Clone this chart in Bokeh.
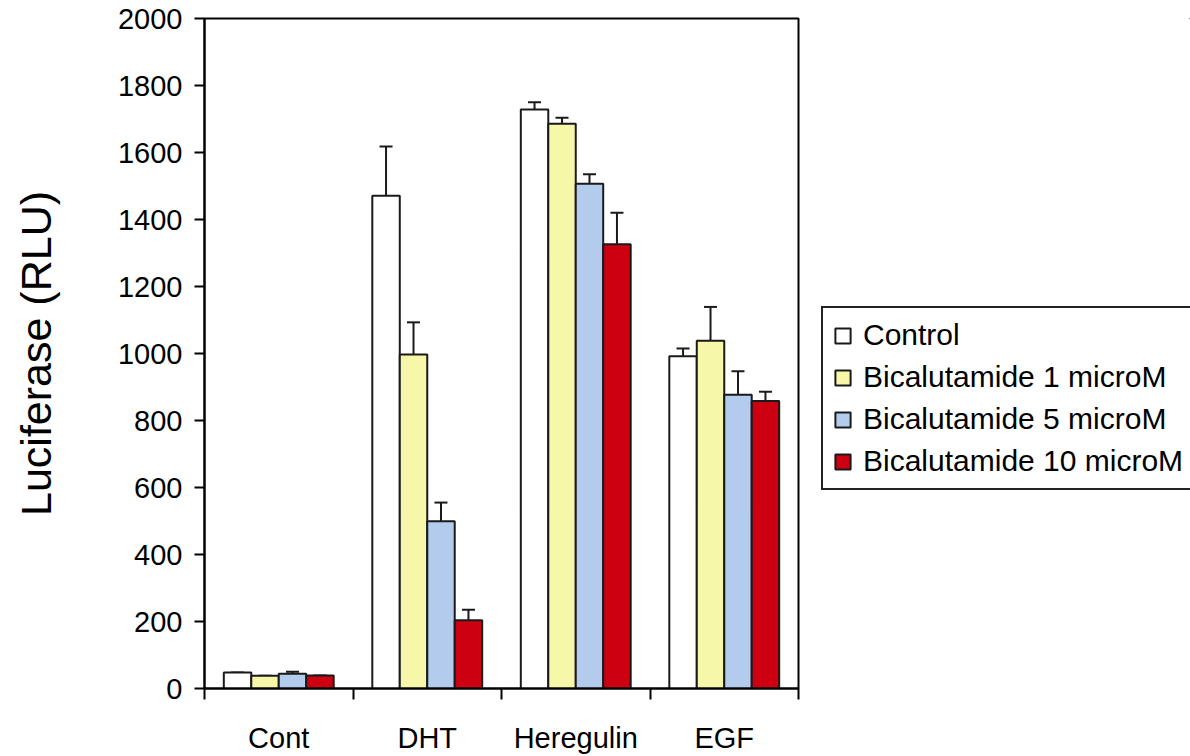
from bokeh.plotting import figure
from bokeh.models import (ColumnDataSource, FixedTicker, Legend, LegendItem,
                          Whisker, TeeHead, Range1d)
from bokeh.layouts import row
from bokeh.embed import file_html
from bokeh.resources import INLINE

categories = ["Cont", "DHT", "Heregulin", "EGF"]
series_names = ["Control", "Bicalutamide 1 microM", "Bicalutamide 5 microM",
                "Bicalutamide 10 microM"]
control = [48, 1471, 1728, 992]
bica1 = [38, 997, 1686, 1038]
bica5 = [44, 499, 1507, 877]
bica10 = [39, 204, 1326, 858]
control_err = [0, 147, 22, 23]
bica1_err = [0, 96, 18, 101]
bica5_err = [6, 56, 28, 70]
bica10_err = [0, 31, 94, 28]
y_ticks = [0, 200, 400, 600, 800, 1000, 1200, 1400, 1600, 1800, 2000]

colors = ["#FFFFFF", "#F7F7AA", "#B3CCEE", "#CC0010"]
values = [control, bica1, bica5, bica10]
errors = [control_err, bica1_err, bica5_err, bica10_err]

FONT = "Liberation Sans"

p = figure(width=820, height=756, output_backend="svg", toolbar_location=None,
           x_range=Range1d(0, 4), y_range=Range1d(0, 2000),
           min_border_left=204, min_border_right=22, min_border_top=18,
           min_border_bottom=64)
p.grid.visible = False
p.outline_line_color = "black"
p.outline_line_width = 2
p.background_fill_color = "white"
p.border_fill_color = "white"

bw = 0.185
for k in range(4):
    xs = [i + 0.5 + (k - 1.5) * bw for i in range(len(categories))]
    tops = values[k]
    ups = [v + e for v, e in zip(values[k], errors[k])]
    src = ColumnDataSource(dict(x=xs, top=tops, up=ups))
    p.vbar(x="x", top="top", width=bw, bottom=0, source=src,
           fill_color=colors[k], line_color="#1a1a1a", line_width=2)
    w = Whisker(base="x", lower="top", upper="up", source=src, dimension="height",
                line_color="#1a1a1a", line_width=2,
                upper_head=TeeHead(size=13, line_color="#1a1a1a", line_width=2),
                lower_head=None)
    p.add_layout(w)

# axes
xa = p.xaxis[0]
xa.ticker = FixedTicker(ticks=[i + 0.5 for i in range(len(categories))],
                        minor_ticks=list(range(len(categories) + 1)))
xa.major_label_overrides = {i + 0.5: c for i, c in enumerate(categories)}
xa.major_tick_out = 0
xa.major_tick_in = 0
xa.minor_tick_out = 11
xa.minor_tick_in = 0
xa.minor_tick_line_width = 2
xa.minor_tick_line_color = "black"
xa.axis_line_width = 2
xa.axis_line_color = "black"
xa.major_label_text_font = FONT
xa.major_label_text_font_size = "29px"
xa.major_label_text_color = "black"
xa.major_label_standoff = 22

ya = p.yaxis[0]
ya.ticker = FixedTicker(ticks=y_ticks)
ya.major_tick_out = 10
ya.major_tick_in = 0
ya.major_tick_line_width = 2
ya.major_tick_line_color = "black"
ya.minor_tick_out = 0
ya.minor_tick_in = 0
ya.axis_line_width = 2
ya.axis_line_color = "black"
ya.major_label_text_font = FONT
ya.major_label_text_font_size = "29px"
ya.major_label_text_color = "black"
ya.major_label_standoff = 12
ya.axis_label = "Luciferase (RLU)"
ya.axis_label_text_font = FONT
ya.axis_label_text_font_size = "43px"
ya.axis_label_text_font_style = "normal"
ya.axis_label_text_color = "black"
ya.axis_label_standoff = 55

# legend panel (separate figure to the right, no axes)
q = figure(width=370, height=756, output_backend="svg", toolbar_location=None,
           x_range=Range1d(0, 1), y_range=Range1d(0, 1),
           min_border_left=0, min_border_right=0, min_border_top=0,
           min_border_bottom=0)
q.axis.visible = False
q.grid.visible = False
q.outline_line_color = None
q.background_fill_color = "white"
q.border_fill_color = "white"
items = []
for k in range(4):
    # swatch-only renderer placed outside the visible range
    swatch = ColumnDataSource(dict(x=[5], top=[5]))
    r = q.vbar(x="x", top="top", width=0.1, bottom=4, source=swatch,
               fill_color=colors[k], line_color="#1a1a1a", line_width=2)
    items.append(LegendItem(label=series_names[k], renderers=[r]))

legend = Legend(items=items, location=(1, 198),
                border_line_color="#222222", border_line_width=2,
                border_line_alpha=1.0,
                background_fill_color="white", background_fill_alpha=1,
                label_text_font=FONT, label_text_font_size="30px",
                label_text_color="black",
                glyph_width=19, glyph_height=19, label_standoff=11,
                padding=10, spacing=8, margin=0)
q.add_layout(legend, "center")

layout = row(p, q, spacing=0)
open("out.html", "w").write(file_html(layout, INLINE))
